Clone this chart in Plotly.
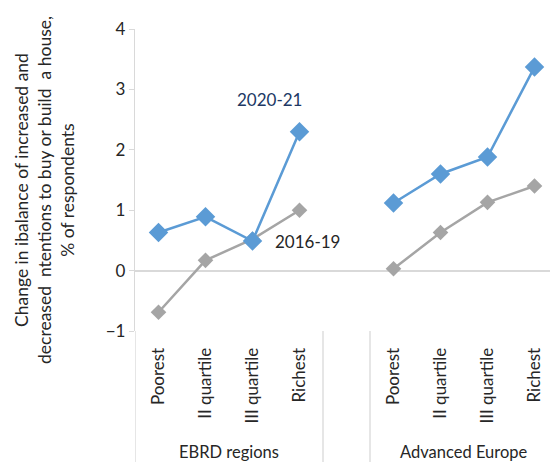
import plotly.graph_objects as go

categories = ["Poorest", "II quartile", "III quartile", "Richest", "",
              "Poorest", "II quartile", "III quartile", "Richest"]
groups = [("EBRD regions", 0, 3), ("Advanced Europe", 5, 8)]
series_2020 = [0.63, 0.89, 0.49, 2.30, None, 1.12, 1.60, 1.88, 3.37]
series_2016 = [-0.69, 0.17, 0.52, 1.00, None, 0.03, 0.63, 1.13, 1.40]
y_ticks = [-1, 0, 1, 2, 3, 4]

FONT = "Lato"
OFF = 8  # page body margin
W, H = 558 - OFF, 462 - OFF
ML, MR, MT, MB = 135 - OFF, 0, 29 - OFF, 131
pw = W - ML - MR
ph = H - MT - MB

xs = list(range(len(categories)))

fig = go.Figure()
fig.add_trace(go.Scatter(
    x=xs, y=series_2016, mode="lines+markers", connectgaps=False,
    line=dict(color="#A5A5A5", width=2.5),
    marker=dict(symbol="diamond", size=12, color="#A5A5A5"),
    showlegend=False, cliponaxis=False))
fig.add_trace(go.Scatter(
    x=xs, y=series_2020, mode="lines+markers", connectgaps=False,
    line=dict(color="#5B9BD5", width=2.5),
    marker=dict(symbol="diamond", size=15, color="#5B9BD5"),
    showlegend=False, cliponaxis=False))

bounds = [-0.5]
for name, a, b in groups:
    bounds += [a - 0.5, b + 0.5]
bounds = sorted(set(bounds))
shapes = []
for bx in bounds:
    shapes.append(dict(type="line", xref="x", yref="paper", x0=bx, x1=bx,
                       y0=0, y1=-MB / ph, line=dict(color="#D9D9D9", width=1.3)))

annotations = []
for name, a, b in groups:
    annotations.append(dict(text=name, xref="x", yref="paper", x=(a + b) / 2,
                            y=-(452 - OFF - (MT + ph)) / ph, showarrow=False,
                            xanchor="center", yanchor="middle",
                            font=dict(family=FONT, size=16.5, color="#262626")))

annotations.append(dict(text="2020-21", xref="x", yref="y", x=2.37, y=2.83,
                        showarrow=False, font=dict(family=FONT, size=17, color="#203864")))
annotations.append(dict(text="2016-19", xref="x", yref="y", x=3.18, y=0.48,
                        showarrow=False, font=dict(family=FONT, size=17, color="#262626")))

annotations.append(dict(
    text="Change in ibalance of increased and<br>decreased  ntentions to buy or build  a house,<br>% of respondents",
    xref="paper", yref="paper", x=(45 - OFF - ML) / pw, y=(MT + ph - (190 - OFF)) / ph,
    xanchor="center", yanchor="middle", textangle=-90, showarrow=False,
    font=dict(family=FONT, size=17.5, color="#262626")))

fig.update_layout(
    width=W, height=H,
    margin=dict(l=ML, r=MR, t=MT, b=MB, pad=0, autoexpand=False),
    paper_bgcolor="white", plot_bgcolor="white",
    shapes=shapes, annotations=annotations,
    font=dict(family=FONT, size=16, color="#262626"),
)
fig.update_xaxes(
    range=[-0.5, len(categories) - 0.5],
    tickmode="array", tickvals=xs, ticktext=categories,
    tickangle=-90, ticks="outside", ticklen=9, tickcolor="rgba(0,0,0,0)",
    showgrid=False, zeroline=False, showline=False, automargin=False,
    tickfont=dict(family=FONT, size=17, color="#262626"),
)
fig.update_yaxes(
    range=[-1, 4], tickmode="array", tickvals=y_ticks,
    ticks="outside", ticklen=5, tickcolor="#D9D9D9",
    showgrid=False, zeroline=True, zerolinecolor="#D9D9D9", zerolinewidth=1.5,
    showline=True, linecolor="#D9D9D9", linewidth=1.3, automargin=False,
    tickfont=dict(family=FONT, size=17, color="#262626"),
)

fig.write_html("out.html")
